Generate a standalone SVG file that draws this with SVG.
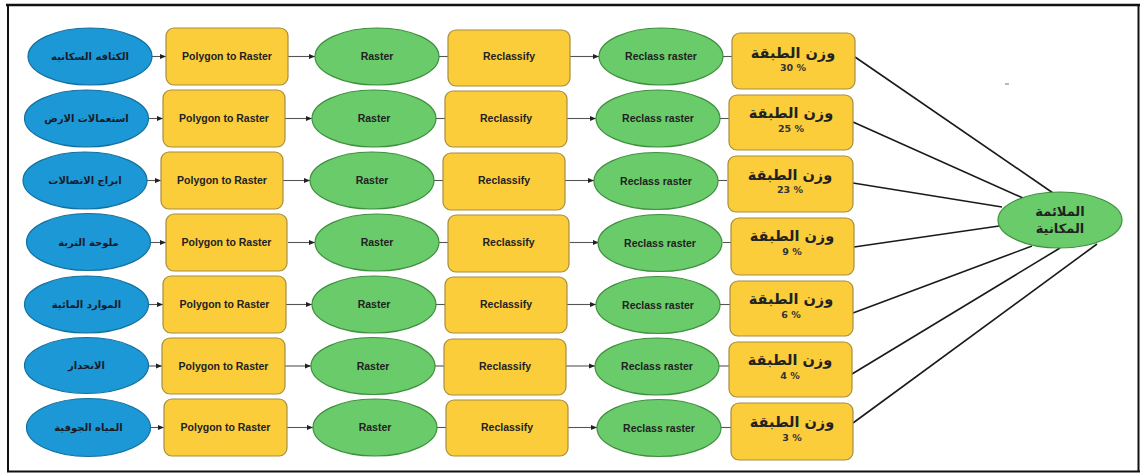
<svg xmlns="http://www.w3.org/2000/svg" width="1140" height="473" viewBox="0 0 1140 473">
<style>
.in{fill:#1b98d5;stroke:#13709f;stroke-width:1.2}
.box{fill:#fccd3b;stroke:#a58e3e;stroke-width:1.2}
.gr{fill:#6acb6a;stroke:#3f8f3f;stroke-width:1.2}
.t{font-family:"Liberation Sans",Arial,sans-serif;font-weight:bold;font-size:10.5px;fill:#222;text-anchor:middle}
.ar{font-family:"DejaVu Sans",sans-serif;font-weight:bold;font-size:10px;fill:#1a1a2a;text-anchor:middle}
.wt{font-family:"DejaVu Sans",sans-serif;font-weight:bold;font-size:14.5px;fill:#222;text-anchor:middle}
.pc{font-family:"DejaVu Sans",sans-serif;font-weight:bold;font-size:9.5px;fill:#333;text-anchor:middle}
.fin{font-family:"DejaVu Sans",sans-serif;font-weight:bold;font-size:13px;fill:#222;text-anchor:middle}
.c{stroke:#555;stroke-width:1.1;fill:none}
.ca{stroke:#555;stroke-width:1.1;fill:none;marker-end:url(#ah)}
.w{stroke:#1a1a1a;stroke-width:1.6;fill:none}
</style>
<defs>
<marker id="ah" viewBox="0 0 10 10" refX="10" refY="5" markerWidth="7" markerHeight="6" markerUnits="userSpaceOnUse" orient="auto">
<path d="M0,1 L10,5 L0,9 Z" fill="#222"/>
</marker>
</defs>
<rect width="1140" height="473" fill="#fff"/>
<g id="frame" stroke="#111" fill="none">
<line x1="6" y1="5" x2="1140" y2="5" stroke-width="2.5"/>
<line x1="8" y1="4" x2="8" y2="472" stroke-width="2"/>
<line x1="1138.5" y1="4" x2="1138.5" y2="472" stroke-width="2"/>
<line x1="7" y1="471.5" x2="1140" y2="471.5" stroke-width="1.8"/>
</g>
<line x1="1005" y1="84" x2="1009" y2="84" stroke="#888" stroke-width="1.2"/>

<g id="connectors">
<line class="ca" x1="152" y1="56.5" x2="166" y2="56.5"/>
<line class="ca" x1="288" y1="56.5" x2="315" y2="56.5"/>
<line class="c" x1="439" y1="56.5" x2="448" y2="56.5"/>
<line class="ca" x1="570" y1="56.5" x2="599" y2="56.5"/>
<line class="c" x1="723" y1="56.5" x2="732" y2="56.5"/>
<line class="ca" x1="148.5" y1="118.5" x2="163" y2="118.5"/>
<line class="ca" x1="285" y1="118.5" x2="312" y2="118.5"/>
<line class="c" x1="436" y1="118.5" x2="445" y2="118.5"/>
<line class="ca" x1="567" y1="118.5" x2="596" y2="118.5"/>
<line class="c" x1="720" y1="118.5" x2="729" y2="118.5"/>
<line class="ca" x1="147" y1="180.5" x2="161" y2="180.5"/>
<line class="ca" x1="283" y1="180.5" x2="310" y2="180.5"/>
<line class="c" x1="434" y1="180.5" x2="443" y2="180.5"/>
<line class="ca" x1="565" y1="180.5" x2="594" y2="180.5"/>
<line class="c" x1="718" y1="180.5" x2="727" y2="180.5"/>
<line class="ca" x1="150.5" y1="242.5" x2="166" y2="242.5"/>
<line class="ca" x1="288" y1="242.5" x2="315" y2="242.5"/>
<line class="c" x1="439" y1="242.5" x2="448" y2="242.5"/>
<line class="ca" x1="570" y1="242.5" x2="599" y2="242.5"/>
<line class="c" x1="723" y1="242.5" x2="731" y2="242.5"/>
<line class="ca" x1="148.5" y1="304.5" x2="163" y2="304.5"/>
<line class="ca" x1="285" y1="304.5" x2="312" y2="304.5"/>
<line class="c" x1="436" y1="304.5" x2="445" y2="304.5"/>
<line class="ca" x1="567" y1="304.5" x2="596" y2="304.5"/>
<line class="c" x1="720" y1="304.5" x2="730" y2="304.5"/>
<line class="ca" x1="148.5" y1="366" x2="162" y2="366"/>
<line class="ca" x1="284" y1="366" x2="311" y2="366"/>
<line class="c" x1="435" y1="366" x2="444" y2="366"/>
<line class="ca" x1="566" y1="366" x2="595" y2="366"/>
<line class="c" x1="719" y1="366" x2="729" y2="366"/>
<line class="ca" x1="150.5" y1="427.5" x2="164" y2="427.5"/>
<line class="ca" x1="286" y1="427.5" x2="313" y2="427.5"/>
<line class="c" x1="437" y1="427.5" x2="446" y2="427.5"/>
<line class="ca" x1="568" y1="427.5" x2="597" y2="427.5"/>
<line class="c" x1="721" y1="427.5" x2="731" y2="427.5"/>
<line class="w" x1="855" y1="57" x2="1053" y2="193"/>
<line class="w" x1="853" y1="122" x2="1023" y2="198"/>
<line class="w" x1="853" y1="183" x2="1002" y2="207"/>
<line class="w" x1="854" y1="247" x2="999" y2="226"/>
<line class="w" x1="853" y1="313" x2="1032" y2="246"/>
<line class="w" x1="852" y1="374" x2="1060" y2="248"/>
<line class="w" x1="853" y1="423" x2="1097" y2="244"/>
</g>

<g id="in1"><ellipse class="in" cx="90" cy="56.5" rx="62" ry="28.5"/><text class="ar" x="90" y="60">الكثافه السكانيه</text></g>
<g id="p1"><rect class="box" x="166" y="28" width="122" height="57" rx="8"/><text class="t" x="227" y="60">Polygon to Raster</text></g>
<g id="r1"><ellipse class="gr" cx="377" cy="56.5" rx="62" ry="28.5"/><text class="t" x="377" y="60">Raster</text></g>
<g id="c1"><rect class="box" x="448" y="30" width="122" height="56" rx="8"/><text class="t" x="509" y="60">Reclassify</text></g>
<g id="rr1"><ellipse class="gr" cx="661" cy="56.5" rx="62" ry="28.5"/><text class="t" x="661" y="60">Reclass raster</text></g>
<g id="w1"><rect class="box" x="732" y="33" width="123" height="56" rx="8"/><text class="wt" x="793" y="58">وزن الطبقة</text><text class="pc" x="793" y="71">30 %</text></g>

<g id="in2"><ellipse class="in" cx="86.5" cy="118.5" rx="62" ry="28.5"/><text class="ar" x="86.5" y="122">استعمالات الارض</text></g>
<g id="p2"><rect class="box" x="163" y="90" width="122" height="57" rx="8"/><text class="t" x="224" y="122">Polygon to Raster</text></g>
<g id="r2"><ellipse class="gr" cx="374" cy="118.5" rx="62" ry="28.5"/><text class="t" x="374" y="122">Raster</text></g>
<g id="c2"><rect class="box" x="445" y="91" width="122" height="56" rx="8"/><text class="t" x="506" y="122">Reclassify</text></g>
<g id="rr2"><ellipse class="gr" cx="658" cy="118.5" rx="62" ry="28.5"/><text class="t" x="658" y="122">Reclass raster</text></g>
<g id="w2"><rect class="box" x="729" y="95" width="124" height="55" rx="8"/><text class="wt" x="791" y="118">وزن الطبقة</text><text class="pc" x="791" y="132">25 %</text></g>

<g id="in3"><ellipse class="in" cx="85" cy="180.5" rx="62" ry="28.5"/><text class="ar" x="85" y="184">ابراج الاتصالات</text></g>
<g id="p3"><rect class="box" x="161" y="152" width="122" height="57" rx="8"/><text class="t" x="222" y="184">Polygon to Raster</text></g>
<g id="r3"><ellipse class="gr" cx="372" cy="180.5" rx="62" ry="28.5"/><text class="t" x="372" y="184">Raster</text></g>
<g id="c3"><rect class="box" x="443" y="153" width="122" height="57" rx="8"/><text class="t" x="504" y="184">Reclassify</text></g>
<g id="rr3"><ellipse class="gr" cx="656" cy="181" rx="62" ry="28.5"/><text class="t" x="656" y="184.5">Reclass raster</text></g>
<g id="w3"><rect class="box" x="728" y="156" width="125" height="56" rx="8"/><text class="wt" x="790" y="180">وزن الطبقة</text><text class="pc" x="790" y="193">23 %</text></g>

<g id="in4"><ellipse class="in" cx="88.5" cy="242" rx="62" ry="28.5"/><text class="ar" x="88.5" y="245.5">ملوحة التربة</text></g>
<g id="p4"><rect class="box" x="166" y="214" width="121" height="57" rx="8"/><text class="t" x="226.5" y="246">Polygon to Raster</text></g>
<g id="r4"><ellipse class="gr" cx="377" cy="242.5" rx="62" ry="28.5"/><text class="t" x="377" y="246">Raster</text></g>
<g id="c4"><rect class="box" x="448" y="215" width="121" height="57" rx="8"/><text class="t" x="508.5" y="246">Reclassify</text></g>
<g id="rr4"><ellipse class="gr" cx="660" cy="243" rx="62" ry="28.5"/><text class="t" x="660" y="246.5">Reclass raster</text></g>
<g id="w4"><rect class="box" x="731" y="218" width="123" height="57" rx="8"/><text class="wt" x="792" y="241">وزن الطبقة</text><text class="pc" x="792" y="255">9 %</text></g>

<g id="in5"><ellipse class="in" cx="86.5" cy="304.5" rx="62" ry="28.5"/><text class="ar" x="86.5" y="308">الموارد المائية</text></g>
<g id="p5"><rect class="box" x="163" y="276" width="123" height="57" rx="8"/><text class="t" x="224.5" y="308">Polygon to Raster</text></g>
<g id="r5"><ellipse class="gr" cx="374" cy="304.5" rx="62" ry="28.5"/><text class="t" x="374" y="308">Raster</text></g>
<g id="c5"><rect class="box" x="445" y="277" width="122" height="56" rx="8"/><text class="t" x="506" y="308">Reclassify</text></g>
<g id="rr5"><ellipse class="gr" cx="658" cy="305" rx="62" ry="28.5"/><text class="t" x="658" y="308.5">Reclass raster</text></g>
<g id="w5"><rect class="box" x="730" y="281" width="123" height="55" rx="8"/><text class="wt" x="791" y="304">وزن الطبقة</text><text class="pc" x="791" y="318">6 %</text></g>

<g id="in6"><ellipse class="in" cx="86.5" cy="365.5" rx="62" ry="28"/><text class="ar" x="86.5" y="369">الانحدار</text></g>
<g id="p6"><rect class="box" x="162" y="338" width="123" height="56" rx="8"/><text class="t" x="223.5" y="369.5">Polygon to Raster</text></g>
<g id="r6"><ellipse class="gr" cx="373" cy="366" rx="62" ry="28.5"/><text class="t" x="373" y="369.5">Raster</text></g>
<g id="c6"><rect class="box" x="444" y="339" width="122" height="56" rx="8"/><text class="t" x="505" y="369.5">Reclassify</text></g>
<g id="rr6"><ellipse class="gr" cx="657" cy="366.5" rx="62" ry="28.5"/><text class="t" x="657" y="370">Reclass raster</text></g>
<g id="w6"><rect class="box" x="729" y="342" width="123" height="55" rx="8"/><text class="wt" x="790" y="365">وزن الطبقة</text><text class="pc" x="790" y="379">4 %</text></g>

<g id="in7"><ellipse class="in" cx="88.5" cy="427.5" rx="62" ry="29"/><text class="ar" x="88.5" y="431">المياه الجوفية</text></g>
<g id="p7"><rect class="box" x="164" y="399" width="123" height="57" rx="8"/><text class="t" x="225.5" y="431">Polygon to Raster</text></g>
<g id="r7"><ellipse class="gr" cx="375" cy="427.5" rx="62" ry="28.5"/><text class="t" x="375" y="431">Raster</text></g>
<g id="c7"><rect class="box" x="446" y="400" width="122" height="56" rx="8"/><text class="t" x="507" y="431">Reclassify</text></g>
<g id="rr7"><ellipse class="gr" cx="659" cy="428" rx="62" ry="28.5"/><text class="t" x="659" y="431.5">Reclass raster</text></g>
<g id="w7"><rect class="box" x="731" y="403" width="122" height="57" rx="8"/><text class="wt" x="792" y="427">وزن الطبقة</text><text class="pc" x="792" y="441">3  %</text></g>

<g id="suit"><ellipse class="gr" cx="1060" cy="220" rx="62" ry="28"/><text class="fin" x="1060" y="216">الملائمة</text><text class="fin" x="1060" y="233">المكانية</text></g>
</svg>
